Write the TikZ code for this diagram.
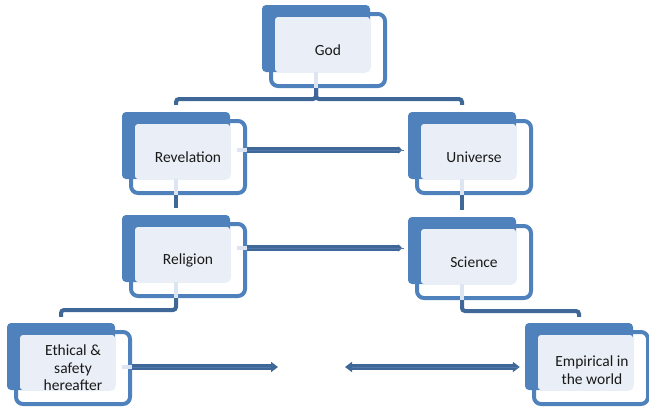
\documentclass[tikz,border=0pt]{standalone}
\usepackage{fontspec}
\setmainfont{Carlito}
\usetikzlibrary{arrows.meta,calc}

\definecolor{boxblue}{HTML}{4F81BD}
\definecolor{tieblue}{HTML}{3F6898}
\definecolor{panefill}{HTML}{EAEFF7}
\definecolor{stubfill}{HTML}{DCE5F1}
\definecolor{flowmid}{HTML}{5279AD}

\begin{document}
\begin{tikzpicture}[x=1pt, y=-1pt,
  front/.style={draw=boxblue, line width=4pt, fill=white, rounded corners=7pt, minimum width=114pt, minimum height=72pt, inner sep=0pt},
  back/.style={fill=boxblue, rounded corners=4pt, minimum width=108pt, minimum height=67pt, inner sep=0pt},
  pane/.style={fill=panefill, rounded corners=3pt, minimum width=95pt, minimum height=55pt, inner sep=0pt},
  txt/.style={align=center, font=\fontsize{15.5}{17.5}\selectfont, text=black!90},
  tie/.style={draw=tieblue, line width=4pt, rounded corners=3pt},
  stub/.style={draw=stubfill, line width=4pt},
  flow/.style={draw=tieblue, line width=5.2pt, -{Triangle[width=8pt,length=4pt,round]},
    postaction={draw=flowmid, line width=1pt, -, shorten >=4pt}},
  bigflow/.style={draw=tieblue, line width=5.2pt, -{Triangle[width=10pt,length=7pt]},
    postaction={draw=flowmid, line width=1pt, -, shorten >=7pt}},
  flowboth/.style={draw=tieblue, line width=5.2pt, {Triangle[width=10pt,length=7pt]}-{Triangle[width=10pt,length=7pt]},
    postaction={draw=flowmid, line width=1pt, -, shorten >=7pt, shorten <=7pt}}
]
\useasboundingbox (0,0) rectangle (649,408);

% God
\node[front] (god-f) at (328,50) {};
\node[back] (god-b) at ($(god-f)+(-12,-11.5)$) {};
\node[pane] (god-p) at ($(god-f)+(-5.5,-5.5)$) {};
\node[txt] (god) at (god-f) {God};

% Revelation
\node[front] (rev-f) at (188,157) {};
\node[back] (rev-b) at ($(rev-f)+(-12,-11.5)$) {};
\node[pane] (rev-p) at ($(rev-f)+(-5.5,-5.5)$) {};
\node[txt] (rev) at (rev-f) {Revelation};

% Universe
\node[front] (uni-f) at (474,157) {};
\node[back] (uni-b) at ($(uni-f)+(-12,-11.5)$) {};
\node[pane] (uni-p) at ($(uni-f)+(-5.5,-5.5)$) {};
\node[txt] (uni) at (uni-f) {Universe};

% Religion
\node[front] (rel-f) at (188,260) {};
\node[back] (rel-b) at ($(rel-f)+(-12,-11.5)$) {};
\node[pane] (rel-p) at ($(rel-f)+(-5.5,-5.5)$) {};
\node[txt] (rel) at (rel-f) {Religion};

% Science
\node[front] (sci-f) at (474,262) {};
\node[back] (sci-b) at ($(sci-f)+(-12,-11.5)$) {};
\node[pane] (sci-p) at ($(sci-f)+(-5.5,-5.5)$) {};
\node[txt] (sci) at (sci-f) {Science};

% Ethical
\node[front] (eth-f) at (73,368) {};
\node[back] (eth-b) at ($(eth-f)+(-12,-11.5)$) {};
\node[pane] (eth-p) at ($(eth-f)+(-5.5,-5.5)$) {};
\node[txt] (eth) at (eth-f) {Ethical \&\\safety\\hereafter};

% Empirical
\node[front] (emp-f) at (591,368) {};
\node[back] (emp-b) at ($(emp-f)+(-12,-11.5)$) {};
\node[pane] (emp-p) at ($(emp-f)+(-5.5,-5.5)$) {};
\node[txt] (emp) at ($(emp-f)+(1,2)$) {Empirical in\\the world};

% light stubs under the panes
\draw[stub] (god-b.south) -- (god-b.south |- god-f.south);
\draw[stub] (rev-b.south) -- (rev-b.south |- rev-f.south);
\draw[stub] (uni-b.south) -- (uni-b.south |- uni-f.south);
\draw[stub] (rel-b.south) -- (rel-b.south |- rel-f.south);
\draw[stub] (sci-b.south) -- (sci-b.south |- sci-f.south);

% tree connectors
\draw[tie] (god-b.south |- god-f.south) -- ++(0,11) -| ([yshift=7pt]rev-b.north);
\draw[tie] (god-b.south |- god-f.south) -- ++(0,11) -| ([yshift=7pt]uni-b.north);
\draw[tie] (rev-b.south |- rev-f.south) -- ([yshift=7pt]rel-b.north);
\draw[tie] (uni-b.south |- uni-f.south) -- ([yshift=7pt]sci-b.north);
\draw[tie] (rel-b.south |- rel-f.south) -- ++(0,12) -| ([yshift=6pt]eth-b.north);
\draw[tie] (sci-b.south |- sci-f.south) -- ++(0,11) -| ([yshift=6pt]emp-b.north);

% horizontal arrows
\coordinate (revout) at ($(rev-f.east)+(0,-7)$);
\coordinate (relout) at ($(rel-f.east)+(0,-12)$);
\coordinate (ethout) at ($(eth-f.east)+(0,-1)$);
\coordinate (gapL) at (278,367);
\coordinate (gapR) at (345,367);
\draw[stub] (revout) -- ++(-10,0);
\draw[stub] (relout) -- ++(-10,0);
\draw[stub] (ethout) -- ++(-10,0);
\draw[flow, shorten >=6pt] (revout) -- (revout -| uni-b.west);
\draw[flow, shorten >=6pt] (relout) -- (relout -| sci-b.west);
\draw[bigflow] (ethout) -- (gapL);
\draw[flowboth, shorten >=5pt] (gapR) -- (gapR -| emp-b.west);

\end{tikzpicture}
\end{document}
